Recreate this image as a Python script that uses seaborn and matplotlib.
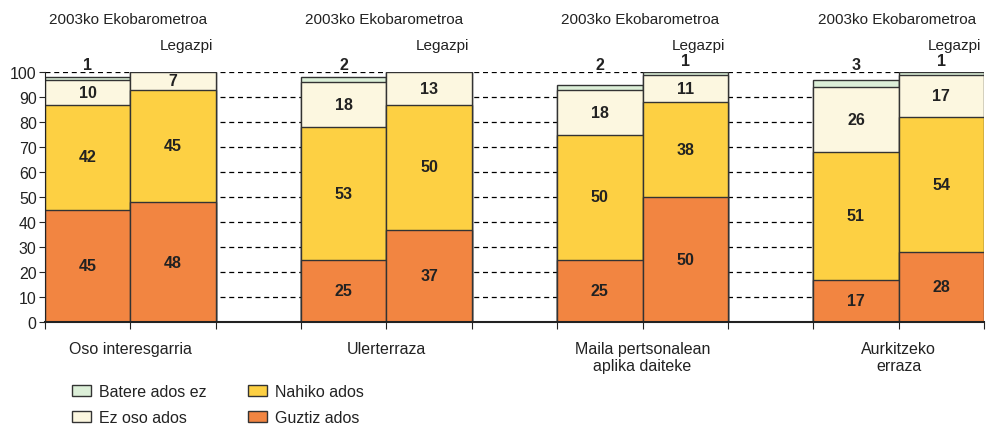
import numpy as np
import pandas as pd
import matplotlib
matplotlib.use("Agg")
import matplotlib.pyplot as plt
from matplotlib.patches import Patch
import seaborn as sns

categories = ["Oso interesgarria", "Ulerterraza",
              "Maila pertsonalean\naplika daiteke", "Aurkitzeko\nerraza"]
series = ["2003ko Ekobarometroa", "Legazpi"]
levels = ["Guztiz ados", "Nahiko ados", "Ez oso ados", "Batere ados ez"]

# values per bar: [eko, legazpi] for each category
guztiz = [45, 48, 25, 37, 25, 50, 17, 28]
nahiko = [42, 45, 53, 50, 50, 38, 51, 54]
ez_oso = [10, 7, 18, 13, 18, 11, 26, 17]
batere = [1, 0, 2, 0, 2, 1, 3, 1]

colors = {"Guztiz ados": "#F28541", "Nahiko ados": "#FDD043",
          "Ez oso ados": "#FCF7E0", "Batere ados ez": "#DCEFD8"}

sns.set_style("ticks")
plt.rcParams['font.family'] = ['Liberation Sans', 'DejaVu Sans']
FS = 11
TXT = "#222222"

pos = np.array([0, 1, 3, 4, 6, 7, 9, 10])
df = pd.DataFrame({"pos": pos, "Guztiz ados": guztiz, "Nahiko ados": nahiko,
                   "Ez oso ados": ez_oso, "Batere ados ez": batere})
cum = df[levels].cumsum(axis=1)

fig = plt.figure(figsize=(9.9, 4.27), dpi=100)
ax = fig.add_axes([45 / 990, 104 / 427, 939 / 990, 250 / 427])

for lev in levels[::-1]:
    sns.barplot(x=df["pos"], y=cum[lev], native_scale=True, width=1,
                color=colors[lev], saturation=1, edgecolor="#333333",
                linewidth=1, ax=ax, zorder=2)

ax.set_xlim(-0.5, 10.5)
ax.set_ylim(0, 100)
ax.set_yticks(range(0, 101, 10))
ax.yaxis.grid(True, linestyle=(0, (4, 3)), color="black", linewidth=0.9)
ax.set_axisbelow(True)
ax.set_xlabel("")
ax.set_ylabel("")
sns.despine(ax=ax)
ax.spines["left"].set_color(TXT)
ax.spines["bottom"].set_color(TXT)
ax.spines["bottom"].set_linewidth(1.5)

ax.set_xticks(np.arange(-0.5, 11, 1))
ax.set_xticklabels([])
ax.tick_params(axis="x", which="major", length=5, color=TXT)
ax.tick_params(axis="y", labelsize=FS + 0.5, length=4, pad=2, labelcolor=TXT)

# category labels under each group
for g, cat in enumerate(categories):
    ax.text(pos[2 * g] + 0.5, -7.8, cat, ha="center", va="top",
            fontsize=FS + 0.5, color=TXT, linespacing=1.15, clip_on=False)

# segment labels
for i, p in enumerate(pos):
    base = 0
    for lev in levels[:3]:
        v = df[lev].iloc[i]
        ax.text(p, base + v / 2, str(v), ha="center", va="center",
                fontsize=FS + 0.5, fontweight="bold", color=TXT)
        base += v
    b = df["Batere ados ez"].iloc[i]
    if b > 0:
        ytop = 102.8 if i % 2 == 0 else 104.4
        ax.text(p, ytop, str(b), ha="center", va="center", fontsize=FS + 0.5,
                fontweight="bold", color=TXT, clip_on=False)

# series labels above each group
for g in range(4):
    ax.text(pos[2 * g] - 0.45, 121, series[0], ha="left", va="center",
            fontsize=FS, color=TXT, clip_on=False)
    ax.text(pos[2 * g + 1] + 0.47, 110.8, series[1], ha="right", va="center",
            fontsize=FS, color=TXT, clip_on=False)

handles = [Patch(facecolor=colors[l], edgecolor="#333333", label=l)
           for l in ["Batere ados ez", "Ez oso ados", "Nahiko ados", "Guztiz ados"]]
fig.legend(handles=handles, ncol=2, loc="upper left",
           bbox_to_anchor=(72 / 990, (427 - 385) / 427), frameon=False,
           fontsize=FS + 0.5, handlelength=1.2, handleheight=0.65,
           handletextpad=0.5, columnspacing=2.6, labelspacing=0.7,
           borderpad=0, borderaxespad=0, labelcolor=TXT)

fig.savefig("out.png", dpi=100)
